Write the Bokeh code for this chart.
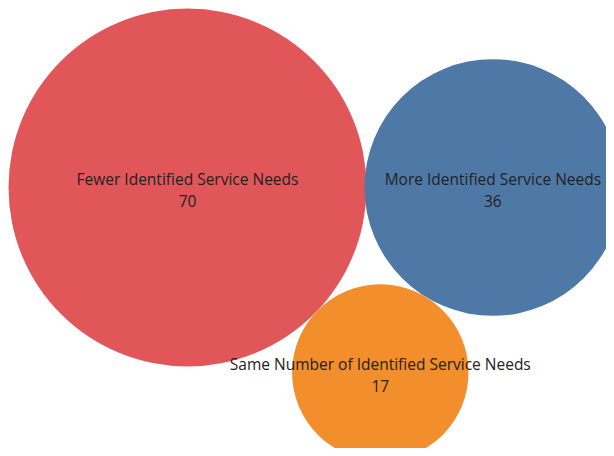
import numpy as np
from bokeh.plotting import figure
from bokeh.models import Range1d, ColumnDataSource
from bokeh.core.properties import value
from bokeh.embed import file_html
from bokeh.resources import INLINE

categories = ["Fewer Identified Service Needs", "More Identified Service Needs",
              "Same Number of Identified Service Needs"]
counts = [70, 36, 17]
colors = ["#E15759", "#4E79A7", "#F28E2B"]

W, H = 606, 448
PAD = 8
k = 179 / np.sqrt(max(counts))          # px per sqrt(count)
r = k * np.sqrt(np.array(counts, dtype=float))

# simple tangent packing: first circle, second tangent to its right, third tangent to both below
x0, y0 = r[0], r[0]
x1, y1 = x0 + r[0] + r[1] - 2, y0
d01 = x1 - x0
a = r[0] + r[2]
b = r[1] + r[2]
px = (a**2 - b**2 + d01**2) / (2 * d01)
py = np.sqrt(max(a**2 - px**2, 0))
x2, y2 = x0 + px, y0 + py
xs = [x0, x1, x2]
ys = [y0, y1, y2]

src = ColumnDataSource(dict(x=xs, y=ys, r=list(r), color=colors,
                            label=categories, num=[str(c) for c in counts],
                            ly=[y - 8.5 for y in ys], ny=[y + 13 for y in ys]))

p = figure(width=W, height=H, output_backend="svg", toolbar_location=None,
           x_range=Range1d(-PAD, W - PAD), y_range=Range1d(H - PAD, -PAD),
           x_axis_type=None, y_axis_type=None, min_border=0)
p.outline_line_color = None
p.grid.visible = False
p.background_fill_color = "white"

p.circle(x="x", y="y", radius="r", fill_color="color", line_color=None, source=src)
p.text(x="x", y="ly", text="label", source=src, text_align="center",
       text_baseline="middle", text_font=value("Open Sans"), text_font_size="15.5px",
       text_color="#222222")
p.text(x="x", y="ny", text="num", source=src, text_align="center",
       text_baseline="middle", text_font=value("Open Sans"), text_font_size="15.5px",
       text_color="#222222")

open("out.html", "w").write(file_html(p, INLINE))
